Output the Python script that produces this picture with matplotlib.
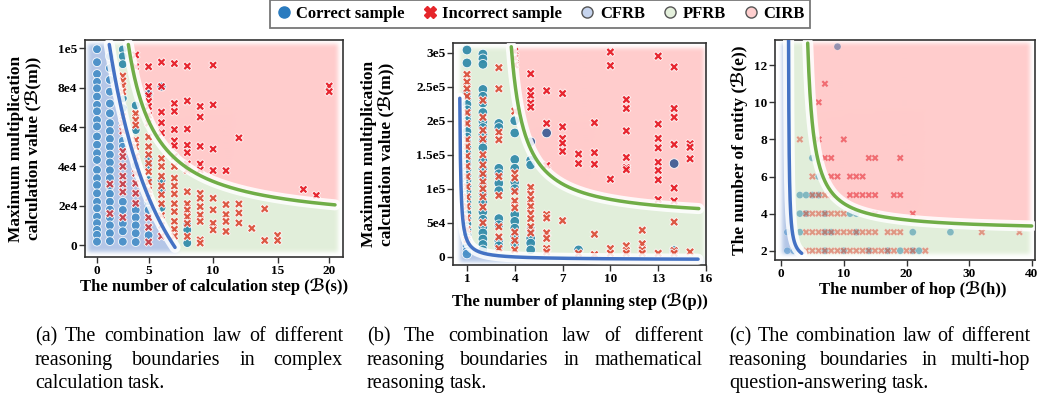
import numpy as np
import matplotlib
matplotlib.use('Agg')
import matplotlib.pyplot as plt
from matplotlib.lines import Line2D
import matplotlib.patheffects as pe
from matplotlib import font_manager
from matplotlib.ft2font import FT2Font

W, H, DPI = 1042, 398, 100
plt.rcParams['font.weight'] = 'bold'


def family_with_glyph(cp, candidates):
    for fam in candidates:
        try:
            path = font_manager.findfont(font_manager.FontProperties(family=fam, weight='bold'),
                                         fallback_to_default=False)
            if cp in FT2Font(path).get_charmap():
                return fam
        except Exception:
            pass
    return 'DejaVu Sans'


SCRIPT_FAM = family_with_glyph(0x212C, ['Liberation Serif', 'DejaVu Serif', 'DejaVu Sans',
                                        'Noto Sans', 'Noto Sans CJK SC', 'Liberation Sans'])
FAMILY = ['Liberation Serif', SCRIPT_FAM, 'DejaVu Sans']
plt.rcParams['font.family'] = FAMILY
SB = '\u212C'   # script capital B

# ---------------- data: panel (a) complex calculation ----------------
# calculation-step columns (real values) and multiplication values (thousands)
A_STEPS = [0, 1.25, 2.5, 3.75, 5, 6, 7, 8, 9, 10, 11, 12, 13, 14, 15, 17.5, 18.75, 20]
A_CORRECT_K = [
    [99.6, 93, 87, 83, 79.7, 75.5, 71.3, 68, 63.6, 60.3, 55.2, 51, 46.7, 43.3, 38.2, 34, 30.5, 26.3, 22, 18.7, 14.4, 11.1, 7.7, 5.2, 1.7],
    [96, 90, 84, 78, 72, 67, 62, 58, 54, 50, 46, 42, 38, 34, 30, 26, 22, 18, 14, 10, 6, 2],
    [99.5, 96, 92, 74.6, 69.6, 53, 50, 22, 17.8, 11, 7, 1.7],
    [71, 58.5, 40.6, 17.8, 14, 10, 6, 1.5],
    [77, 44, 40.6, 33, 21.9, 17.8, 5],
    [80.6, 33, 28, 19],
    [],
    [10.2, 7.7, 1],
    [], [], [], [], [], [], [], [], [], [],
]
A_WRONG_K = [
    [],
    [31, 16],
    [86, 83.5, 81, 78, 65.4, 62, 58, 47.6, 45, 40, 35, 31, 27, 14],
    [96.7, 90.7, 66.9, 63.6, 61, 53.4, 50, 45, 36.5, 31.4, 26.3, 21.2],
    [90.7, 80.6, 76, 73, 70.5, 66, 62, 55, 50, 46, 41.6, 37.3, 32, 28, 24, 14, 9, 1.5],
    [93, 80.6, 67.6, 62.2, 57, 44, 40, 35, 30, 25.6, 21, 15, 10, 4.5],
    [92.3, 72, 68, 58.7, 53, 50.5, 45, 40, 34, 30, 26, 21, 17, 12, 8, 4.5],
    [91, 73.3, 59, 50.8, 47, 41.2, 38, 27.1, 21, 17.8, 14.4, 11, 4.4],
    [70.5, 65.1, 50.2, 41.2, 38.2, 26.3, 23.8, 19.5, 15.3, 12, 2.6, 1],
    [91.5, 71.3, 48.8, 37.9, 23.8, 17.9, 11.1, 7.7],
    [37.8, 20.6, 15.5, 12, 6.9],
    [54.5, 20.9, 16.3, 11.2],
    [8.5],
    [18.4, 2.3],
    [4.9, 2.3],
    [28.3],
    [25.2],
    [80.9, 78],
]
A_XTICKS = [0, 5, 10, 15, 20]
A_YTICKS = [0, 20000, 40000, 60000, 80000, 100000]
A_YTICKLABELS = ['0', '2e4', '4e4', '6e4', '8e4', '1e5']
# axis scale of panel (a): labelled value -> even column position
A_SCALE_REAL = [-5, 0, 5, 15, 20, 25]
A_SCALE_POS = [-4, 0, 4, 14, 18, 22]

# ---------------- data: panel (b) mathematical reasoning ----------------
B_STEPS = list(range(1, 16))
B_CORRECT_K = [
    [304, 285, 240, 232, 224, 216, 208, 200, 192, 184, 176, 168, 160, 152, 144, 136, 128, 120, 112, 104, 96, 88, 80, 72, 64, 56, 48, 40, 32, 24, 16, 8, 4],
    [298, 291, 283, 246, 236, 226, 212, 199, 190, 180, 170, 160, 141, 130, 118, 105, 92, 80, 66, 55, 44, 35, 26, 18, 10],
    [196, 190, 130, 122, 108, 97, 56, 47, 24, 16],
    [200, 182, 143, 130, 110, 100, 62, 52, 42, 30, 20],
    [169, 142, 135, 40, 27, 20, 10],
    [182],
    [],
    [10],
    [], [], [], [], [],
    [137, 9],
    [],
]
B_WRONG_K = [
    [268, 257, 247, 236, 212, 196, 172, 162, 148, 133, 118, 103, 88, 74, 57, 40, 25],
    [230, 205, 186, 173, 150, 135, 122, 110, 100, 88, 73, 50],
    [278, 247, 183, 172, 118, 90, 44, 29, 12],
    [302, 292, 282, 214, 123, 116, 96, 82, 72, 36, 24, 10],
    [269, 244, 237, 226, 220, 102, 92, 84, 74, 64, 56, 44, 35],
    [244, 196, 134, 62, 57, 35, 27, 12, 7],
    [240, 191, 174, 167, 155, 53],
    [151, 137, 5],
    [197, 153, 136, 33, 3],
    [301, 281, 114, 12, 5],
    [231, 218, 185, 146, 131, 128, 16, 9, 5],
    [39, 19, 10, 5],
    [295, 195, 174, 160, 139, 127, 113, 84, 5],
    [279, 218, 205, 165, 101, 82, 51, 9, 5],
    [166, 161, 144, 7],
]
B_XTICKS = [1, 4, 7, 10, 13, 16]
B_YTICKS = [0, 50000, 100000, 150000, 200000, 250000, 300000]
B_YTICKLABELS = ['0', '5e4', '1e5', '1.5e5', '2e5', '2.5e5', '3e5']

# ---------------- data: panel (c) multi-hop QA ----------------
C_ENTITY = [2, 3, 4, 5, 6, 7, 8, 10, 11, 13]
C_CORRECT_HOPS = [
    [1, 2, 7, 10, 14, 17, 19, 21, 22],
    [1, 3, 7, 8, 12, 21, 27],
    [3, 4, 7, 11, 12],
    [3, 4, 5, 6],
    [6],
    [5],
    [],
    [],
    [],
    [9],
]
C_WRONG_HOPS = [
    [4, 5, 6, 7, 8, 9, 10, 11, 12, 13, 14, 15, 16, 17, 18, 20, 21, 23],
    [4, 5, 6, 7, 8, 9, 10, 11, 12, 13, 14, 15, 17, 18, 19, 32, 38],
    [4, 5, 6, 7, 8, 9, 10, 15, 21],
    [5, 6, 7, 8, 11, 12, 13, 14, 15, 18, 19],
    [5, 8, 9, 11, 12, 13],
    [7, 8, 14, 15, 19],
    [3, 6, 10],
    [6],
    [7],
    [],
]
C_XTICKS = [0, 10, 20, 30, 40]
C_YTICKS = [2, 4, 6, 8, 10, 12]

# ---------------- boundary curves  y = A / (x - x0) + B ----------------
A_BLUE = dict(A=979700, x0=-3.91, B=-99580, start=0.95, end=6.05)
A_GREEN = dict(A=200490, x0=0.265, B=9395, start=2.43, end=18.45)
B_BLUE = dict(A=14970, x0=0.487, B=-4600, start=0.55, end=15.5)
B_GREEN = dict(A=216900, x0=2.93, B=53600, start=3.78, end=15.55)
C_BLUE = dict(A=1.188, x0=1.10, B=1.32, start=1.19, end=3.3)
C_GREEN = dict(A=10.05, x0=3.258, B=3.06, start=4.25, end=39.95)

# ---------------- style ----------------
BG = {0: (0.706, 0.780, 0.906), 1: (0.886, 0.937, 0.855), 2: (1.0, 0.800, 0.800)}
LINE_BLUE = '#4472c4'
LINE_GREEN = '#70ad47'
CORRECT_COL = {0: '#4a90c8', 1: '#348caa', 2: '#415f96'}
WRONG_COL = {0: '#c8404a', 1: '#dc503c', 2: '#e61e28'}


def curve(c, x):
    x = np.asarray(x, dtype=float)
    with np.errstate(divide='ignore', invalid='ignore'):
        y = c['A'] / (x - c['x0']) + c['B']
    return np.where(x > c['x0'], y, np.inf)


def classify(x, y, cb, cg):
    x = np.asarray(x, float)
    y = np.asarray(y, float)
    reg = np.ones(np.broadcast(x, y).shape, int)
    reg[y < curve(cb, x)] = 0
    reg[y >= curve(cg, x)] = 2
    return reg


def box_blur(a, r):
    for axis in (0, 1):
        pad = [(0, 0)] * a.ndim
        pad[axis] = (r + 1, r)
        p = np.pad(a, pad, mode='edge')
        c = np.cumsum(p, axis=axis)
        n = a.shape[axis]
        hi = np.take(c, np.arange(2 * r + 1, 2 * r + 1 + n), axis=axis)
        lo = np.take(c, np.arange(0, n), axis=axis)
        a = (hi - lo) / (2 * r + 1)
    return a


def draw_regions(ax, xl, yl, box, cb, cg, npx):
    nx, ny = npx
    xs = np.linspace(xl[0], xl[1], nx)
    ys = np.linspace(yl[0], yl[1], ny)
    X, Y = np.meshgrid(xs, ys)
    reg = classify(X, Y, cb, cg)
    rgb = np.ones((ny, nx, 3))
    inside = (X >= box[0]) & (X <= box[1]) & (Y >= box[2]) & (Y <= box[3])
    for k, col in BG.items():
        rgb[inside & (reg == k)] = col
    rgb = box_blur(box_blur(rgb, 2), 2)
    ax.imshow(np.clip(rgb, 0, 1), extent=(0, 1, 0, 1), transform=ax.transAxes,
              origin='lower', aspect='auto', zorder=0, interpolation='bilinear')


def draw_curve(ax, c, color, to_data=lambda p: p):
    xp = np.linspace(c['start'], c['end'], 400)
    yp = curve(c, xp)
    ax.plot(to_data(xp), yp, color=color, lw=2.5, solid_capstyle='round', zorder=5,
            path_effects=[pe.Stroke(linewidth=8, foreground='white', alpha=0.85),
                          pe.Normal()])


def flatten(xcols, ylists, scale=1.0):
    xs, ys = [], []
    for x, yl in zip(xcols, ylists):
        for y in yl:
            xs.append(x)
            ys.append(y * scale)
    return np.array(xs, float), np.array(ys, float)


def scatter_pts(ax, xd, xpos, y, cb, cg, marker, pal, s, alpha, lw=0.6):
    if len(y) == 0:
        return
    reg = classify(xpos, y, cb, cg)
    cols = [pal[k] for k in reg]
    ax.scatter(xd, y, s=s, marker=marker, c=cols, edgecolors='white',
               linewidths=lw, alpha=alpha, zorder=3)


def style_axis(ax):
    for sp in ax.spines.values():
        sp.set_color('#333333')
        sp.set_linewidth(1.2)
    ax.tick_params(axis='both', labelsize=9.5, length=4, width=1.0, pad=1.5,
                   color='#333333')
    for lab in ax.get_xticklabels() + ax.get_yticklabels():
        lab.set_fontweight('bold')


def set_labels(ax, xlabel, ylabel, xcoords, ycoords):
    ax.set_ylabel(ylabel, fontsize=12.5, fontweight='bold', linespacing=1.05,
                  family=FAMILY)
    ax.yaxis.set_label_coords(*ycoords)
    ax.set_xlabel(xlabel, fontsize=12, fontweight='bold', family=FAMILY)
    ax.xaxis.set_label_coords(*xcoords)
    ax.xaxis.label.set_va('center')
    ax.yaxis.label.set_va('center')


fig = plt.figure(figsize=(W / DPI, H / DPI), dpi=DPI)


def axes_px(l, r, t, b):
    return fig.add_axes([l / W, 1 - b / H, (r - l) / W, (b - t) / H])


# ---------------- panel (a) ----------------
ax1 = axes_px(85, 343, 40, 257)
fwd = lambda r: np.interp(r, A_SCALE_REAL, A_SCALE_POS)
inv = lambda p: np.interp(p, A_SCALE_POS, A_SCALE_REAL)
a_xlim_pos = (-0.93, 19.07)
a_ylim = (-6100, 104300)
draw_regions(ax1, a_xlim_pos, a_ylim, (-0.7, 18.75, -4000, 102300), A_BLUE, A_GREEN, (258, 217))
xc, yc = flatten(A_STEPS, A_CORRECT_K, 1000)
xw, yw = flatten(A_STEPS, A_WRONG_K, 1000)
scatter_pts(ax1, xc, fwd(xc), yc, A_BLUE, A_GREEN, 'o', CORRECT_COL, 40, 0.95)
scatter_pts(ax1, xw, fwd(xw), yw, A_BLUE, A_GREEN, 'X', WRONG_COL, 40, 0.95)
draw_curve(ax1, A_BLUE, LINE_BLUE, inv)
draw_curve(ax1, A_GREEN, LINE_GREEN, inv)
ax1.set_xscale('function', functions=(fwd, inv))
ax1.set_xlim(inv(a_xlim_pos[0]), inv(a_xlim_pos[1]))
ax1.set_ylim(*a_ylim)
ax1.set_xticks(A_XTICKS)
ax1.set_xticklabels([str(v) for v in A_XTICKS])
ax1.set_yticks(A_YTICKS)
ax1.set_yticklabels(A_YTICKLABELS)
ax1.minorticks_off()
style_axis(ax1)
set_labels(ax1, f'The number of calculation step ({SB}(s))',
           f'Maximum multiplication\ncalculation value ({SB}(m))',
           (0.5, -0.134), (-0.232, 0.5))

# ---------------- panel (b) ----------------
ax2 = axes_px(453, 706, 43, 265)
b_xlim = (0.123, 15.64)
b_ylim = (-12200, 314300)
draw_regions(ax2, b_xlim, b_ylim, (0.5, 15.55, -9000, 307000), B_BLUE, B_GREEN, (253, 222))
xc, yc = flatten(B_STEPS, B_CORRECT_K, 1000)
xw, yw = flatten(B_STEPS, B_WRONG_K, 1000)
scatter_pts(ax2, xc, xc, yc, B_BLUE, B_GREEN, 'o', CORRECT_COL, 48, 0.95)
scatter_pts(ax2, xw, xw, yw, B_BLUE, B_GREEN, 'X', WRONG_COL, 42, 0.95)
draw_curve(ax2, B_BLUE, LINE_BLUE)
draw_curve(ax2, B_GREEN, LINE_GREEN)
ax2.set_xlim(*b_xlim)
ax2.set_ylim(*b_ylim)
ax2.set_xticks(B_XTICKS)
ax2.set_yticks(B_YTICKS)
ax2.set_yticklabels(B_YTICKLABELS)
style_axis(ax2)
set_labels(ax2, f'The number of planning step ({SB}(p))',
           f'Maximum multiplication\ncalculation value ({SB}(m))',
           (0.5, -0.162), (-0.298, 0.5))

# ---------------- panel (c) ----------------
ax3 = axes_px(775, 1035, 40, 260)
c_xlim = (-0.96, 40.48)
c_ylim = (1.50, 13.36)
draw_regions(ax3, c_xlim, c_ylim, (0.1, 39.8, 1.82, 13.2), C_BLUE, C_GREEN, (260, 220))
yc, xc = flatten(C_ENTITY, C_CORRECT_HOPS)
yw, xw = flatten(C_ENTITY, C_WRONG_HOPS)
scatter_pts(ax3, xc, xc, yc, C_BLUE, C_GREEN, 'o', CORRECT_COL, 26, 0.55, lw=0.3)
scatter_pts(ax3, xw, xw, yw, C_BLUE, C_GREEN, 'X', WRONG_COL, 28, 0.55, lw=0.3)
draw_curve(ax3, C_BLUE, LINE_BLUE)
draw_curve(ax3, C_GREEN, LINE_GREEN)
ax3.set_xlim(*c_xlim)
ax3.set_ylim(*c_ylim)
ax3.set_xticks(C_XTICKS)
ax3.set_yticks(C_YTICKS)
style_axis(ax3)
set_labels(ax3, f'The number of hop ({SB}(h))',
           f'The number of entity ({SB}(e))',
           (0.53, -0.135), (-0.135, 0.5))

# ---------------- legend ----------------
handles = [
    Line2D([], [], ls='none', marker='o', markersize=8, markerfacecolor='#2a7bbf', markeredgecolor='#2a7bbf'),
    Line2D([], [], ls='none', marker='X', markersize=9, markerfacecolor='#e6262b', markeredgecolor='#e6262b'),
    Line2D([], [], ls='none', marker='o', markersize=8, markerfacecolor='#c6d4ee', markeredgecolor='#555555', markeredgewidth=1.0),
    Line2D([], [], ls='none', marker='o', markersize=8, markerfacecolor='#e4f0dc', markeredgecolor='#555555', markeredgewidth=1.0),
    Line2D([], [], ls='none', marker='o', markersize=8, markerfacecolor='#ffcfcf', markeredgecolor='#555555', markeredgewidth=1.0),
]
labels = ['Correct sample', 'Incorrect sample', 'CFRB', 'PFRB', 'CIRB']
leg = fig.legend(handles, labels, loc='upper center', bbox_to_anchor=(540 / W, 1.0),
                 ncol=5, frameon=True, fancybox=False,
                 prop={'weight': 'bold', 'size': 12, 'family': 'Liberation Serif'},
                 handletextpad=0.25, columnspacing=1.0, borderpad=0.35,
                 handlelength=1.0, borderaxespad=0.0)
leg.get_frame().set_edgecolor('#555555')
leg.get_frame().set_linewidth(1.3)

# ---------------- captions (justified) ----------------
CAPTIONS = [
    ((35, 343), ['(a) The combination law of different', 'reasoning boundaries in complex', 'calculation task.']),
    ((367, 703), ['(b) The combination law of different', 'reasoning boundaries in mathematical', 'reasoning task.']),
    ((729, 1030), ['(c) The combination law of different', 'reasoning boundaries in multi-hop', 'question-answering task.']),
]
BASELINES = [341, 365, 388]
CAP_SIZE = 14.5

renderer = fig.canvas.get_renderer()
for (x0, x1), lines in CAPTIONS:
    for i, (line, yb) in enumerate(zip(lines, BASELINES)):
        words = line.split(' ')
        texts = [fig.text(0, 1 - yb / H, w, fontsize=CAP_SIZE, fontweight='normal',
                          family='Liberation Serif', va='baseline', ha='left') for w in words]
        widths = [t.get_window_extent(renderer).width for t in texts]
        if i == len(lines) - 1 or len(words) == 1:
            gap = 0.25 * CAP_SIZE * DPI / 72
        else:
            gap = (x1 - x0 - sum(widths)) / (len(words) - 1)
        x = x0
        for t, w in zip(texts, widths):
            t.set_x(x / W)
            x += w + gap

fig.savefig('out.png', dpi=DPI)
